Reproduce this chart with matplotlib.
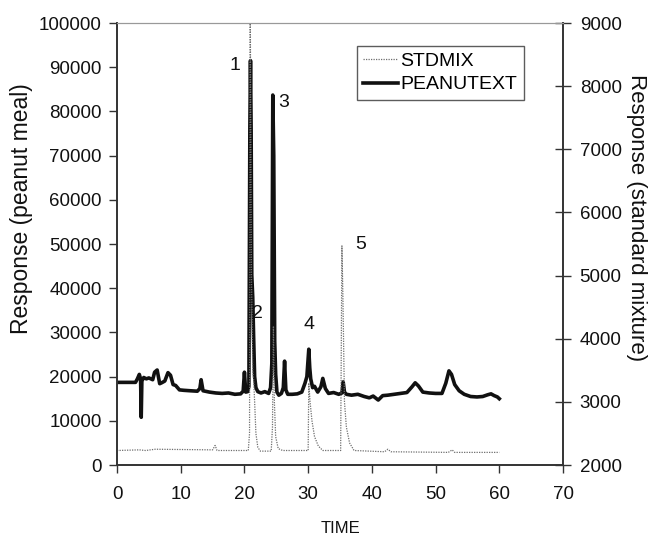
import matplotlib.pyplot as plt

plt.rcParams['font.family'] = ['Liberation Sans', 'DejaVu Sans']

# peanut meal extract trace (left axis)
peanut_t = [0, 2.9, 3.2, 3.5, 3.7, 3.8, 3.9, 4.2, 4.6, 5.0, 5.6, 5.9, 6.3, 6.7, 7.0,
            7.5, 8.0, 8.4, 8.8, 9.2, 9.8, 10.5, 11.5, 12.6, 13.0, 13.2, 13.5, 14.5,
            15.5, 16.5, 17.5, 18.5, 19.4, 19.8, 20.0, 20.2, 20.5, 20.7, 20.85, 20.95,
            21.05, 21.15, 21.3, 21.45, 21.6, 21.8, 22.1, 22.6, 23.2, 23.8, 24.1, 24.3,
            24.45, 24.6, 24.75, 24.9, 25.1, 25.4, 25.8, 26.1, 26.3, 26.5, 26.8, 27.5,
            28.3, 29.0, 29.5, 29.8, 30.1, 30.25, 30.4, 30.7, 31.0, 31.5, 32.0, 32.3,
            32.7, 33.2, 34.0, 34.8, 35.3, 35.5, 35.7, 36.0, 36.8, 37.8, 38.8, 39.6,
            40.2, 41.0, 41.7, 42.5, 43.5, 44.5, 45.5, 46.3, 46.8, 47.3, 48.0, 49.0,
            50.0, 51.0, 51.6, 52.1, 52.5, 53.0, 53.7, 54.5, 55.5, 56.5, 57.4, 58.2,
            58.7, 59.2, 59.7, 60.0]
peanut_y = [18700, 18700, 19500, 20500, 19500, 10800, 19000, 19800, 19500, 19700, 19300,
            21000, 21500, 18400, 18600, 19000, 20900, 20300, 18200, 18000, 17000, 16900,
            16800, 16700, 17300, 19300, 16800, 16500, 16300, 16200, 16300, 16000, 16100,
            16700, 21000, 16500, 16600, 17800, 76000, 91500, 76000, 43000, 38000, 28500,
            20000, 17500, 16600, 16300, 16600, 16200, 17500, 23000, 83700, 70000, 28000,
            20500, 16500, 15800, 16200, 17500, 23500, 17000, 16000, 16000, 16100, 16500,
            18500, 20000, 26200, 22000, 19500, 17500, 17800, 16500, 17700, 19600, 17300,
            16200, 16400, 16000, 16300, 18800, 16500, 16000, 15800, 16000, 15500, 15200,
            15600, 14700, 15700, 15800, 16000, 16200, 16400, 17700, 18600, 17900, 16500,
            16300, 16200, 16200, 18500, 21300, 20500, 18200, 16800, 16000, 15500, 15400,
            15500, 15900, 16100, 15700, 15400, 15000]

# standard mixture trace (right axis)
std_t = [0, 3.5, 4.5, 6.0, 15.0, 15.4, 15.7, 20.6, 20.8, 20.9, 21.1, 21.3, 21.45, 21.6,
         21.8, 22.1, 22.5, 24.2, 24.4, 24.55, 24.7, 24.9, 25.3, 26.0, 30.0, 30.1, 30.3,
         30.6, 31.0, 31.6, 32.3, 35.1, 35.3, 35.45, 35.7, 36.0, 36.5, 37.2, 42.0, 42.5,
         43.0, 52.0, 52.6, 53.0, 60.0]
std_y = [2230, 2240, 2230, 2250, 2240, 2310, 2230, 2230, 2500, 9500, 5000, 3500, 3350,
         3000, 2500, 2280, 2220, 2220, 2600, 4200, 3000, 2450, 2260, 2230, 2230, 3300,
         3000, 2700, 2450, 2300, 2230, 2230, 5470, 4700, 3000, 2600, 2350, 2230, 2210,
         2250, 2210, 2200, 2240, 2200, 2200]

peak_labels = ['1', '2', '3', '4', '5']
peak_x = [17.6, 21.2, 25.3, 29.3, 37.4]
peak_y = [90300, 34200, 82100, 31800, 49900]

fig = plt.figure(figsize=(6.49, 5.35), dpi=100)
ax = fig.add_axes([0.1803, 0.1308, 0.6872, 0.8262])
ax2 = ax.twinx()

l2, = ax.plot(peanut_t, peanut_y, color='#111111', lw=2.6, label='PEANUTEXT')
l1, = ax2.plot(std_t, std_y, color='#6e6e6e', lw=0.9, ls=(0, (1, 1)), label='STDMIX')

for s, px, py in zip(peak_labels, peak_x, peak_y):
    ax.text(px, py, s, fontsize=14, color='#111111', va='center', ha='left')

ax.set_xlim(0, 70)
ax.set_ylim(0, 100000)
ax2.set_ylim(2000, 9000)
ax.set_xticks(range(0, 71, 10))
ax.set_yticks(range(0, 100001, 10000))
ax2.set_yticks(range(2000, 9001, 1000))

for a in (ax, ax2):
    for sp in a.spines.values():
        sp.set_color('#333333')
        sp.set_linewidth(1.2)
    a.spines['top'].set_color('#999999')
    a.spines['top'].set_linewidth(0.8)

ax.tick_params(axis='both', direction='out', length=6, width=1, color='#333333',
               labelsize=13.5, labelcolor='#111111')
ax.tick_params(axis='x', pad=9)
ax.tick_params(axis='y', pad=5)
ax2.tick_params(axis='y', direction='inout', length=12, width=1, color='#333333',
                labelsize=13.5, labelcolor='#111111', pad=6)

ax.set_ylabel('Response (peanut meal)', fontsize=16.5, color='#111111', labelpad=4)
ax2.set_ylabel('Response (standard mixture)', fontsize=16, color='#111111',
               rotation=270, labelpad=18)
ax.yaxis.label.set_y(0.58)
ax2.yaxis.label.set_y(0.56)
ax.set_xlabel('TIME', fontsize=12, color='#111111', labelpad=13)

leg = ax2.legend(handles=[l1, l2], loc='upper left', bbox_to_anchor=(0.537, 0.949),
                 borderaxespad=0, fontsize=14, frameon=True, fancybox=False,
                 handlelength=1.8, handletextpad=0.1, borderpad=0.35, labelspacing=0.3)
leg.get_frame().set_edgecolor('#333333')
leg.get_frame().set_linewidth(1)

fig.savefig('out.png', dpi=100)
